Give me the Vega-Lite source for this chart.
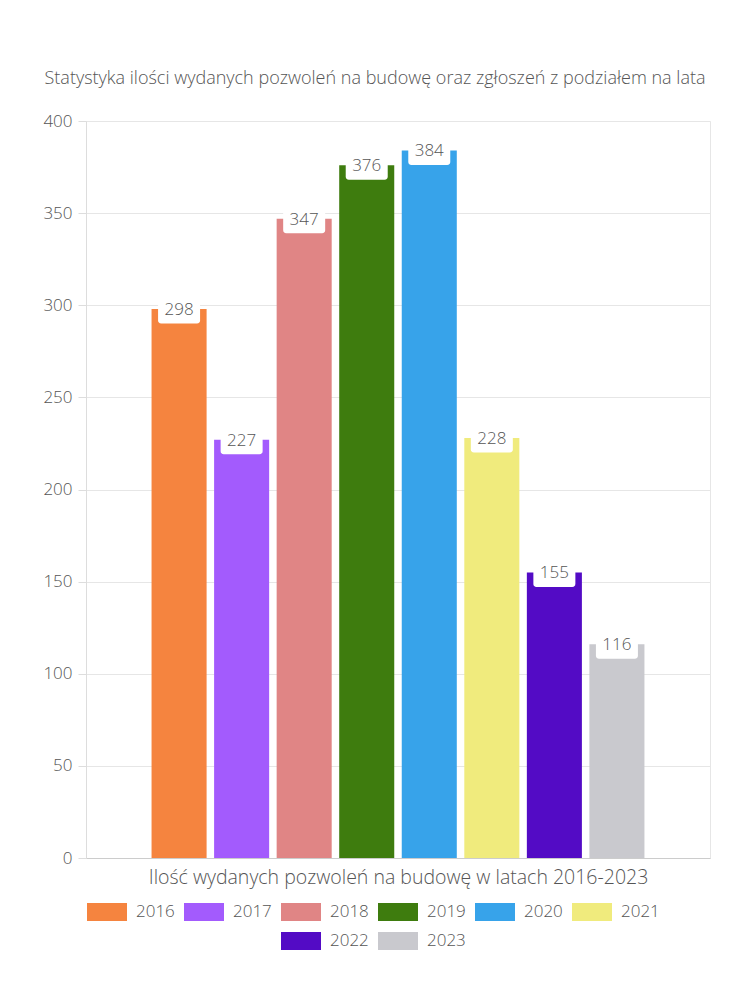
{
  "$schema": "https://vega.github.io/schema/vega-lite/v6.json",
  "width": 624,
  "height": 737,
  "autosize": "none",
  "padding": {"left": 86, "top": 121, "right": 40, "bottom": 142},
  "background": "white",
  "title": {
    "text": "Statystyka ilości wydanych pozwoleń na budowę oraz zgłoszeń z podziałem na lata",
    "anchor": "middle",
    "dx": -23,
    "offset": 24,
    "font": "Open Sans",
    "fontSize": 18,
    "fontWeight": 300,
    "color": "#555555"
  },
  "data": {
    "values": [
      {"year": "2016", "value": 298},
      {"year": "2017", "value": 227},
      {"year": "2018", "value": 347},
      {"year": "2019", "value": 376},
      {"year": "2020", "value": 384},
      {"year": "2021", "value": 228},
      {"year": "2022", "value": 155},
      {"year": "2023", "value": 116}
    ]
  },
  "config": {
    "view": {"stroke": "#e6e6e6"},
    "font": "Open Sans",
    "axis": {"labelFont": "Open Sans", "titleFont": "Open Sans", "labelColor": "#555555", "titleColor": "#555555", "labelFontWeight": 300, "titleFontWeight": 300},
    "legend": {
      "labelFont": "Open Sans",
      "labelFontWeight": 300,
      "title": null,
      "orient": "none",
      "direction": "horizontal",
      "symbolType": "M-1,-0.45L1,-0.45L1,0.45L-1,0.45Z",
      "symbolSize": 1600,
      "symbolStrokeWidth": 0,
      "symbolOpacity": 1,
      "labelFontSize": 17,
      "labelColor": "#555555",
      "labelOffset": 9,
      "columnPadding": 9,
      "rowPadding": -12
    }
  },
  "encoding": {
    "x": {
      "datum": "Ilość wydanych pozwoleń na budowę w latach 2016-2023",
      "type": "nominal",
      "scale": {"paddingInner": 0, "paddingOuter": 0.133},
      "axis": {
        "labels": false,
        "ticks": false,
        "domainColor": "#cccccc",
        "title": "Ilość wydanych pozwoleń na budowę w latach 2016-2023",
        "titleFontSize": 19.5,
        "titlePadding": 10
      }
    },
    "xOffset": {
      "field": "year",
      "type": "nominal",
      "scale": {"paddingInner": 0.12, "paddingOuter": 0}
    },
    "y": {
      "field": "value",
      "type": "quantitative",
      "scale": {"domain": [0, 400]},
      "axis": {
        "values": [0, 50, 100, 150, 200, 250, 300, 350, 400],
        "title": null,
        "labelFontSize": 17,
        "labelPadding": 6,
        "tickColor": "#dddddd",
        "tickSize": 8,
        "domainColor": "#dddddd",
        "gridColor": "#e6e6e6"
      }
    }
  },
  "layer": [
    {
      "transform": [{"filter": "toNumber(datum.year) <= 2021"}],
      "mark": {"type": "bar"},
      "encoding": {
        "color": {
          "field": "year",
          "type": "nominal",
          "scale": {
            "domain": ["2016", "2017", "2018", "2019", "2020", "2021"],
            "range": ["#F5843F", "#A35BFD", "#E08585", "#3E7C0E", "#37A3EA", "#F0EB7D"]
          },
          "legend": {"legendX": 1, "legendY": 771, "columns": 6}
        }
      }
    },
    {
      "transform": [{"filter": "toNumber(datum.year) >= 2022"}],
      "mark": {"type": "bar"},
      "encoding": {
        "fill": {
          "field": "year",
          "type": "nominal",
          "scale": {
            "domain": ["2022", "2023"],
            "range": ["#530BC5", "#C9C9CE"]
          },
          "legend": {"legendX": 195, "legendY": 800, "columns": 2}
        }
      }
    },
    {
      "mark": {
        "type": "point",
        "shape": "M-1,-0.5L1,-0.5L1,0.35Q1,0.5 0.85,0.5L-0.85,0.5Q-1,0.5 -1,0.35Z",
        "size": 1764,
        "filled": true,
        "fill": "white",
        "opacity": 1,
        "yOffset": 4
      }
    },
    {
      "mark": {
        "type": "text",
        "fontSize": 17,
        "fontWeight": 300,
        "color": "#555555",
        "baseline": "middle",
        "dy": 1
      },
      "encoding": {"text": {"field": "value", "type": "quantitative"}}
    }
  ]
}
